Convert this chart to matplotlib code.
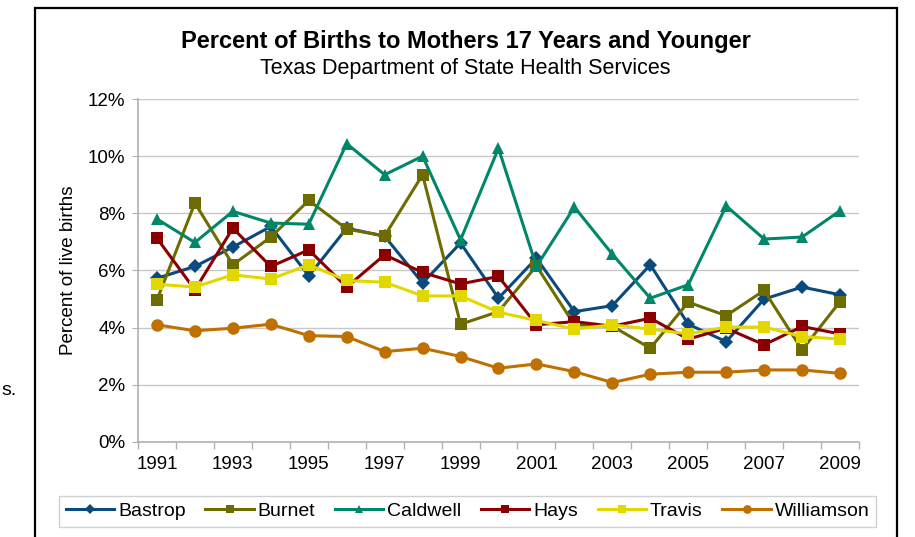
import numpy as np
import matplotlib
matplotlib.use("Agg")
import matplotlib.pyplot as plt
from matplotlib.patches import Rectangle

plt.rcParams["font.family"] = ["Liberation Sans", "DejaVu Sans"]

# Years on the category axis
years = list(range(1991, 2010))

# Percent of live births
bastrop    = [5.73, 6.14, 6.82, 7.54, 5.81, 7.48, 7.20, 5.56, 6.96, 5.03, 6.43, 4.56, 4.77, 6.20, 4.12, 3.51, 5.00, 5.42, 5.15]
burnet     = [4.97, 8.36, 6.20, 7.17, 8.45, 7.45, 7.21, 9.35, 4.12, 4.56, 6.16, 4.10, 4.05, 3.28, 4.89, 4.42, 5.30, 3.22, 4.91]
caldwell   = [7.80, 6.98, 8.07, 7.66, 7.62, 10.44, 9.35, 10.00, 7.07, 10.28, 6.14, 8.22, 6.57, 5.03, 5.50, 8.26, 7.10, 7.17, 8.09]
hays       = [7.13, 5.32, 7.48, 6.14, 6.72, 5.42, 6.55, 5.93, 5.53, 5.79, 4.10, 4.21, 4.05, 4.33, 3.60, 3.98, 3.40, 4.04, 3.78]
travis     = [5.52, 5.42, 5.85, 5.70, 6.20, 5.65, 5.59, 5.11, 5.11, 4.54, 4.25, 3.95, 4.10, 3.95, 3.78, 4.02, 4.02, 3.69, 3.60]
williamson = [4.10, 3.89, 3.98, 4.12, 3.72, 3.69, 3.16, 3.28, 2.99, 2.58, 2.73, 2.46, 2.08, 2.37, 2.44, 2.44, 2.52, 2.52, 2.40]

series = [
    ("Bastrop",    bastrop,    "#0B4A7C", "D", 7),
    ("Burnet",     burnet,     "#6E6C00", "s", 9),
    ("Caldwell",   caldwell,   "#00876A", "^", 9),
    ("Hays",       hays,       "#8A0000", "s", 9),
    ("Travis",     travis,     "#E2D800", "s", 9),
    ("Williamson", williamson, "#BF7000", "o", 9),
]

fig = plt.figure(figsize=(9.15, 5.37), dpi=100)
ax = fig.add_axes([0.1508, 0.177, 0.7880, 0.6386])

x = np.arange(len(years))
for name, vals, col, mk, ms in series:
    ax.plot(x, vals, color=col, marker=mk, markersize=ms, linewidth=2.2,
            label=name, markeredgewidth=0)

ax.set_xlim(-0.5, len(years) - 0.5)
ax.set_ylim(0, 12)
ax.set_yticks(np.arange(0, 13, 2))
ax.set_yticklabels([f"{v}%" for v in range(0, 13, 2)])
ax.set_xticks(x[::2])
ax.set_xticklabels([str(y) for y in years[::2]])
ax.set_xticks(np.arange(-0.5, len(years), 1), minor=True)
ax.tick_params(axis="x", which="major", length=0, pad=10, labelsize=13.5)
ax.tick_params(axis="x", which="minor", length=5, color="#B0B0B0", width=1)
ax.tick_params(axis="y", length=4, color="#B0B0B0", pad=5, labelsize=13.5)

ax.grid(axis="y", color="#C8C8C8", linewidth=1)
ax.set_axisbelow(True)
for side in ("top", "right"):
    ax.spines[side].set_visible(False)
for side in ("left", "bottom"):
    ax.spines[side].set_color("#B0B0B0")
    ax.spines[side].set_linewidth(1.2)

ax.set_ylabel("Percent of live births", fontsize=13.5, labelpad=8)

fig.text(0.509, 0.922, "Percent of Births to Mothers 17 Years and Younger",
         ha="center", va="center", fontsize=17, fontweight="bold")
fig.text(0.509, 0.873, "Texas Department of State Health Services",
         ha="center", va="center", fontsize=15.5)

# stray text from the page behind the chart
fig.text(0.001, 0.272, "s.", ha="left", va="center", fontsize=14)

# outer chart frame
fig.patches.append(Rectangle((0.038, -0.05), 0.942, 1.035, transform=fig.transFigure,
                             fill=False, edgecolor="black", linewidth=1.6))

leg = fig.legend(loc="center", bbox_to_anchor=(0.511, 0.0475), ncol=6,
                 fontsize=14, frameon=True, fancybox=False, framealpha=1,
                 edgecolor="#D0D0D0", handlelength=2.5, handletextpad=0.2,
                 columnspacing=1.0, markerscale=0.7, borderpad=0.35)
leg.get_frame().set_linewidth(1)

fig.savefig("out.png", dpi=100)
